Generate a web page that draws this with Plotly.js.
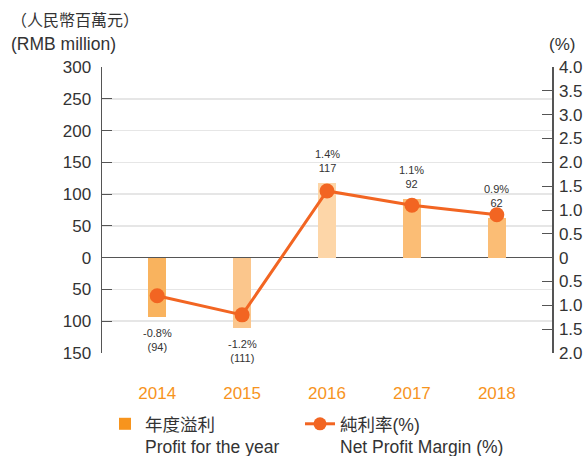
<!DOCTYPE html>
<html><head><meta charset="utf-8">
<script src="https://cdn.plot.ly/plotly-3.0.1.min.js"></script>
<style>body{margin:0;}#c{width:584px;height:456px;}</style>
</head><body><div id="c"></div>
<script>
const years = ['2014','2015','2016','2017','2018'];
const profit = [-94, -111, 117, 92, 62];
const margin = [-0.8, -1.2, 1.4, 1.1, 0.9];
const barColors = ['#f9b35e','#fbc68c','#fdd6a8','#fbbd75','#fbbd75'];
const leftTicks = [300,250,200,150,100,50,0,-50,-100,-150];
const leftLabels = ['300','250','200','150','100','50','0','50','100','150'];
const rightTicks = [4,3.5,3,2.5,2,1.5,1,0.5,0,-0.5,-1,-1.5,-2];
const rightLabels = ['4.0','3.5','3.0','2.5','2.0','1.5','1.0','0.5','0','0.5','1.0','1.5','2.0'];

const font = "'Liberation Sans','Noto Sans CJK TC',Arial,sans-serif";
const txt = '#333333';
const lineColor = '#f26522';

const traces = [
  {type:'bar', x:years, y:profit, width:0.21, marker:{color:barColors}, showlegend:false, hoverinfo:'none'},
  {type:'scatter', mode:'lines+markers', x:years, y:margin, yaxis:'y2', line:{color:lineColor, width:3}, marker:{color:lineColor, size:15}, showlegend:false, hoverinfo:'none'},
  {type:'bar', x:[null], y:[null], marker:{color:'#f7941d'}, name:'年度溢利<br>Profit for the year', legend:'legend'},
  {type:'scatter', mode:'lines+markers', x:[null], y:[null], line:{color:lineColor, width:3}, marker:{color:lineColor, size:13}, name:'純利率(%)<br>Net Profit Margin (%)', legend:'legend2'}
];

const annotations = years.map((yr,i)=>{
  const pos = profit[i] >= 0;
  const pctText = margin[i].toFixed(1)+'%';
  const valText = pos ? String(profit[i]) : '('+Math.abs(profit[i])+')';
  return {x:i, y:profit[i], xref:'x', yref:'y', showarrow:false, yanchor:'middle',
    text: pctText+'<br>'+valText, yshift: pos ? 22 : -23, align:'center',
    font:{family:font, size:11, color:txt}};
});
annotations.push({xref:'paper', yref:'paper', x:-0.207, y:1.164, xanchor:'left', yanchor:'middle', text:'（人民幣百萬元）', showarrow:false, font:{family:font, size:16, color:txt}});
annotations.push({xref:'paper', yref:'paper', x:-0.206, y:1.08, xanchor:'left', yanchor:'middle', text:'(RMB million)', showarrow:false, font:{family:font, size:17.5, color:txt}});
annotations.push({xref:'paper', yref:'paper', x:1.0556, y:1.08, xanchor:'right', yanchor:'middle', text:'(%)', showarrow:false, font:{family:font, size:17, color:txt}});

const legendBase = {orientation:'h', y:-0.185, xanchor:'left', yanchor:'top', valign:'top', font:{family:font, size:17.5, color:txt}, bgcolor:'rgba(0,0,0,0)'};

const layout = {
  width:584, height:456,
  margin:{l:102, r:32, t:67, b:103, autoexpand:false},
  paper_bgcolor:'#ffffff', plot_bgcolor:'#ffffff',
  font:{family:font, color:txt},
  xaxis:{type:'category', range:[-0.65,4.65], showgrid:false, zeroline:false, showline:false, ticks:'',
    tickfont:{family:font, size:17, color:'#f7941d'}, ticklabelstandoff:28},
  yaxis:{range:[-150,300], tickvals:leftTicks, ticktext:leftLabels, ticks:'inside', ticklen:10, tickcolor:'#555',
    showline:true, linecolor:'#555', linewidth:1.5, gridcolor:'#e6e6e6', gridwidth:1.5,
    zeroline:true, zerolinecolor:'#555', zerolinewidth:1.5, tickfont:{family:font, size:17, color:txt}, ticklabelstandoff:6},
  yaxis2:{range:[-2,4], overlaying:'y', side:'right', tickvals:rightTicks, ticktext:rightLabels, ticks:'inside', ticklen:10, tickcolor:'#555',
    showline:true, linecolor:'#555', linewidth:1.5, showgrid:false, zeroline:false, tickfont:{family:font, size:17, color:txt}, ticklabelstandoff:2},
  legend: Object.assign({}, legendBase, {x:0.0067}),
  legend2: Object.assign({}, legendBase, {x:0.44}),
  annotations:annotations,
  bargap:0
};
Plotly.newPlot('c', traces, layout, {staticPlot:true});
</script></body></html>
